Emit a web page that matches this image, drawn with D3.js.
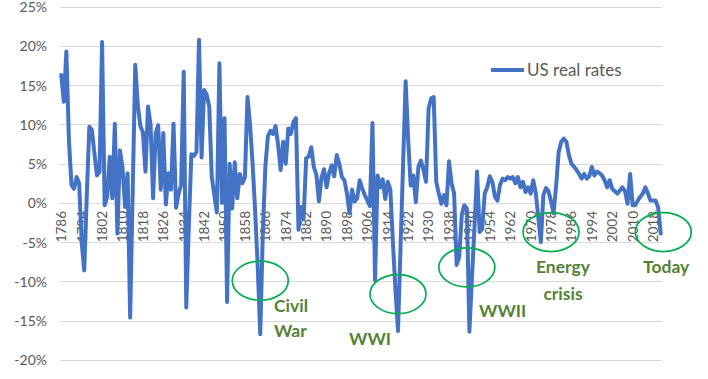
<!DOCTYPE html>
<html><head><meta charset="utf-8">
<script src="https://cdn.jsdelivr.net/npm/d3@7"></script>
<style>
html,body{margin:0;padding:0;background:#fff;}
svg{display:block;}
</style></head>
<body><svg id="chart" width="708" height="379"></svg>
<script>
// ---- data ----
const years = d3.range(1786, 2022);
const realRates = [
  16.3, 12.9, 19.3, 8.0,
  2.3, 1.8, 3.3, 2.5, -5.0, -8.6, 1.0, 9.7, 9.3, 6.3,
  3.5, 4.0, 20.5, -0.3, 0.8, 5.9, 0.6, 10.1, -3.9, 6.7,
  4.5, -0.5, 3.8, -14.6, 1.5, 17.6, 12.5, 9.8, 9.0, 4.0,
  12.3, 10.0, 0.6, 8.9, 9.9, 1.7, 8.9, -0.2, 3.8, 1.7,
  10.1, -0.6, 1.2, 2.3, 16.7, -13.3, -3.0, 6.2, 6.0, 6.5,
  20.8, 5.8, 14.4, 13.8, 12.3, 3.3, 1.0, -1.2, 17.8, 0.0,
  10.8, -12.6, 5.0, -0.7, 5.2, 0.6, 3.7, 2.5, 3.3, 13.5,
  10.0, 5.0, -1.0, -8.0, -16.7, -4.0, 4.6, 8.5, 9.2, 8.8,
  9.8, 7.4, 4.2, 7.8, 5.0, 9.5, 8.8, 10.3, 10.8, -3.4,
  -0.5, -2.0, 5.7, 5.9, 7.1, 4.6, 3.6, 0.2, 3.2, 4.3,
  2.0, 3.8, 4.8, 3.4, 6.1, 5.0, 3.3, 2.9, 1.2, -1.3,
  1.7, 0.2, 0.6, 2.9, 1.8, 1.0, 0.3, -0.4, 10.2, -9.8,
  3.5, 2.0, 3.0, 0.5, 2.7, 1.7, -5.0, -11.0, -16.3, -5.7,
  4.9, 15.5, 8.0, 2.2, 3.5, 0.1, 4.6, 5.4, 4.2, 2.7,
  12.0, 13.3, 13.5, 2.7, 1.2, -0.1, 1.0, -0.3, 5.3, 2.5,
  1.2, -7.9, -6.9, -1.5, -0.3, -0.7, -16.4, -9.5, -3.0, 4.0,
  -3.7, -3.3, 1.2, 2.0, 3.4, 2.7, 0.8, 0.3, 2.3, 3.1,
  2.9, 3.3, 3.1, 3.3, 2.5, 3.3, 2.0, 2.7, 1.4, 2.0,
  1.2, 2.9, 1.3, -1.8, -5.0, 1.0, 1.9, 1.5, 0.2, -1.3,
  2.2, 6.5, 7.8, 8.2, 7.8, 6.1, 5.0, 4.6, 4.2, 3.7,
  3.1, 3.7, 3.1, 3.4, 4.6, 3.5, 4.0, 3.8, 3.5, 2.9,
  2.0, 2.9, 1.8, 1.5, 1.2, 1.6, 2.0, 1.5, -0.1, 3.7,
  -0.3, -0.3, 0.3, 0.8, 1.2, 2.0, 1.2, 0.3, 0.3, 0.3,
  -0.6, -3.9
];
const yTicks = [-20, -15, -10, -5, 0, 5, 10, 15, 20, 25];
const xTickLabels = ["1786","1794","1802","1810","1818","1826","1834","1842","1850","1858",
  "1866","1874","1882","1890","1898","1906","1914","1922","1930","1938","1946","1954",
  "1962","1970","1978","1986","1994","2002","2010","2018"];
const seriesName = "US real rates";
const eventLabels = [["Civil","War"], ["WWI"], ["WWII"], ["Energy","crisis"], ["Today"]];
const eventYears = [1864, 1918, 1945, 1978, 2022];
const eventRates = [-9.9, -11.6, -8.2, -3.7, -3.7];

(function () {
  const svg = d3.select("#chart");
  const pLeft = 60, pRight = 662, pTop = 6.7, pBottom = 360;
  const fontFam = "Lato, 'Open Sans', 'DejaVu Sans', sans-serif";
  const grey = "#595959";

  const x = d3.scaleBand().domain(years).range([pLeft, pRight]).padding(0);
  const xc = d => x(d) + x.bandwidth() / 2;
  const y = d3.scaleLinear().domain([-20, 25]).range([pBottom, pTop]);

  // gridlines
  svg.append("g").selectAll("line").data(yTicks).join("line")
    .attr("x1", pLeft).attr("x2", pRight)
    .attr("y1", d => Math.round(y(d)) + 0.5).attr("y2", d => Math.round(y(d)) + 0.5)
    .attr("stroke", "#d9d9d9").attr("stroke-width", 1);

  // y axis labels
  const yAxis = d3.axisLeft(y).tickValues(yTicks).tickSize(0).tickPadding(0)
    .tickFormat(d => d + "%");
  svg.append("g").attr("transform", "translate(47,0)").call(yAxis)
    .call(g => g.select(".domain").remove())
    .call(g => g.selectAll("text").attr("fill", grey).attr("font-size", "14px")
      .attr("font-family", fontFam).attr("x", 0).attr("dy", "0.35em"));

  // x axis labels (rotated) at zero line
  const xAxis = d3.axisBottom(x).tickValues(xTickLabels.map(Number)).tickSize(0);
  svg.append("g").attr("transform", `translate(0,${y(0)})`).call(xAxis)
    .call(g => g.select(".domain").remove())
    .call(g => g.selectAll(".tick text")
      .attr("fill", grey).attr("font-size", "13.5px").attr("font-family", fontFam)
      .attr("transform", "rotate(-90)")
      .attr("text-anchor", "end")
      .attr("x", -8).attr("y", 0).attr("dy", "0.36em"));

  // line
  const pts = years.map((yr, i) => [yr, realRates[i]]);
  svg.append("path").datum(pts)
    .attr("fill", "none").attr("stroke", "#4472C4").attr("stroke-width", 4)
    .attr("stroke-linejoin", "round").attr("stroke-linecap", "round")
    .attr("d", d3.line().x(d => xc(d[0])).y(d => y(d[1])));

  // legend
  svg.append("line").attr("x1", 491).attr("x2", 524).attr("y1", 70).attr("y2", 70)
    .attr("stroke", "#4472C4").attr("stroke-width", 4);
  svg.append("text").attr("x", 527).attr("y", 70).attr("dy", "0.35em")
    .attr("fill", grey).attr("font-size", "17px").attr("font-family", fontFam)
    .text(seriesName);

  // annotation ellipses
  const ex = yr => pLeft + (yr - years[0] + 0.5) * x.bandwidth();
  svg.append("g").selectAll("ellipse").data(eventYears).join("ellipse")
    .attr("cx", d => ex(d)).attr("cy", (d, i) => y(eventRates[i]))
    .attr("rx", 28).attr("ry", 19.5)
    .attr("fill", "none").attr("stroke", "#00B050").attr("stroke-width", 1.7);

  // annotation texts
  const textPos = [
    {x: 274, y: 312, dy: 25, anchor: "start"},
    {x: 349, y: 345, dy: 0, anchor: "start"},
    {x: 479, y: 317, dy: 0, anchor: "start"},
    {x: 563, y: 273, dy: 26.5, anchor: "middle"},
    {x: 643, y: 273, dy: 0, anchor: "start"}
  ];
  eventLabels.forEach((lines, i) => {
    const p = textPos[i];
    const t = svg.append("text").attr("x", p.x).attr("y", p.y)
      .attr("text-anchor", p.anchor)
      .attr("fill", "#548235").attr("font-weight", "bold")
      .attr("font-size", "17.5px").attr("font-family", fontFam);
    lines.forEach((ln, j) => {
      t.append("tspan").attr("x", p.x).attr("y", p.y + j * p.dy).text(ln);
    });
  });
})();
</script>
</body></html>
